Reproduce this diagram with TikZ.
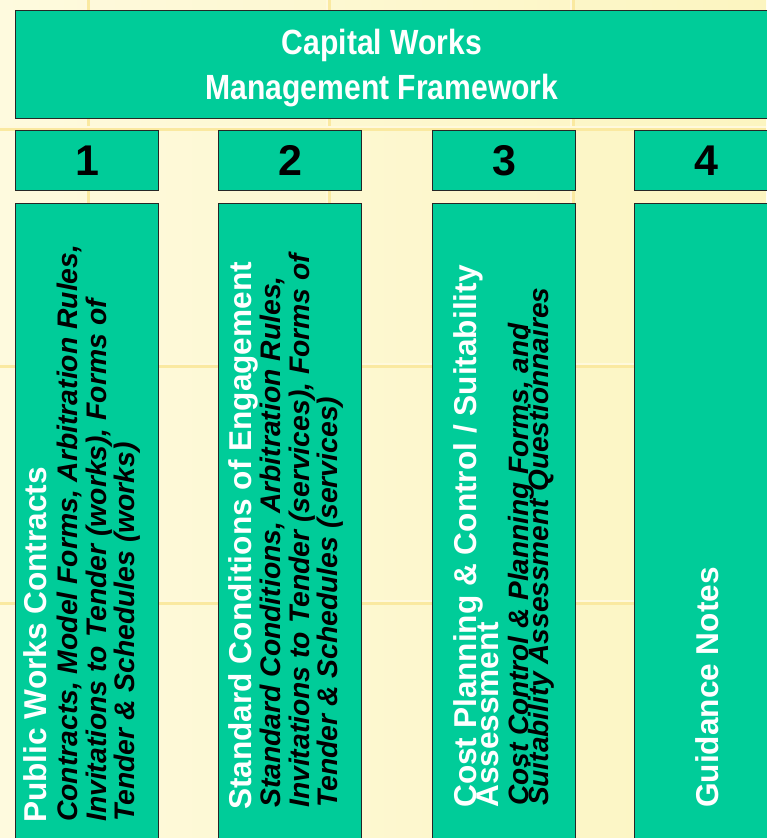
\documentclass[tikz,border=0pt]{standalone}
\usepackage{fontspec}
\setmainfont{Liberation Sans}
\newfontfamily\narrowsans[FakeStretch=0.86]{Liberation Sans}
\usetikzlibrary{calc}
\definecolor{boxgreen}{RGB}{0,204,153}
\definecolor{paper}{RGB}{252,245,192}
\definecolor{paperlight}{RGB}{254,250,222}
\definecolor{gridlight}{RGB}{255,249,220}
\definecolor{griddark}{RGB}{250,233,160}
\newcommand\tightlines{\lineskiplimit-100pt\relax}

\begin{document}
\begin{tikzpicture}[x=1pt,y=-1pt,
    greenbox/.style={draw=black!85,line width=1.2pt,fill=boxgreen,inner sep=0pt,anchor=north west},
    coltitle/.style={rotate=90,anchor=north west,inner sep=0pt,align=left,text=white,
      font=\bfseries\fontsize{31.6}{31.6}\selectfont\tightlines},
    coltext/.style={rotate=90,anchor=north west,inner sep=0pt,align=left,text=black,
      font=\bfseries\itshape\fontsize{28.3}{28.3}\selectfont\tightlines}]

    \useasboundingbox (0,0) rectangle (766,838);
    \shade[left color=paperlight,right color=paper] (0,0) rectangle (766,838);
    \foreach \g in {87,328,572} {
      \draw[gridlight,line width=2pt] (\g-1.5,0) -- (\g-1.5,838);
      \draw[griddark,line width=3pt] (\g+1,0) -- (\g+1,838);
    }
    \foreach \g in {128,365,602} {
      \draw[gridlight,line width=2pt] (0,\g-1.5) -- (766,\g-1.5);
      \draw[griddark,line width=3pt] (0,\g+1) -- (766,\g+1);
    }

    \node[greenbox,minimum width=770,minimum height=108] (frame) at (15,10) {};
    \node[text=white,align=center,font=\narrowsans\bfseries\fontsize{35}{45}\selectfont]
      (frametitle) at (382,68) {Capital Works\\Management Framework};

    \foreach \x/\n in {15/1,218/2,432/3,634/4} {
      \node[greenbox,minimum width=143,minimum height=60,
        font=\bfseries\fontsize{43}{43}\selectfont] (num\n) at (\x,130) {\n};
      \node[greenbox,minimum width=143,minimum height=650] (col\n) at (\x,203) {};
    }

    \node[coltitle] (title1) at ($(col1.north west)+(8,620)$) {Public Works Contracts};
    \node[coltext] (text1) at ($(col1.north west)+(42,619)$)
      {Contracts, Model Forms, Arbitration Rules,\\Invitations to Tender (works), Forms of\\Tender \& Schedules (works)};

    \node[coltitle] (title2) at ($(col2.north west)+(10,607)$) {Standard Conditions of Engagement};
    \node[coltext] (text2) at ($(col2.north west)+(42,605)$)
      {Standard Conditions, Arbitration Rules,\\Invitations to Tender (services), Forms of\\Tender \& Schedules (services)};

    \node[coltitle,font=\bfseries\fontsize{31.6}{22}\selectfont\tightlines] (title3)
      at ($(col3.north west)+(21,605)$) {Cost Planning \& Control / Suitability\\Assessment};
    \node[coltext,font=\bfseries\itshape\fontsize{28}{20}\selectfont\tightlines] (text3)
      at ($(col3.north west)+(76,603)$) {Cost Control \& Planning Forms, and\\Suitability Assessment Questionnaires};

    \node[coltitle] (title4) at ($(col4.north west)+(61,605)$) {Guidance Notes};
  \end{tikzpicture}
\end{document}
